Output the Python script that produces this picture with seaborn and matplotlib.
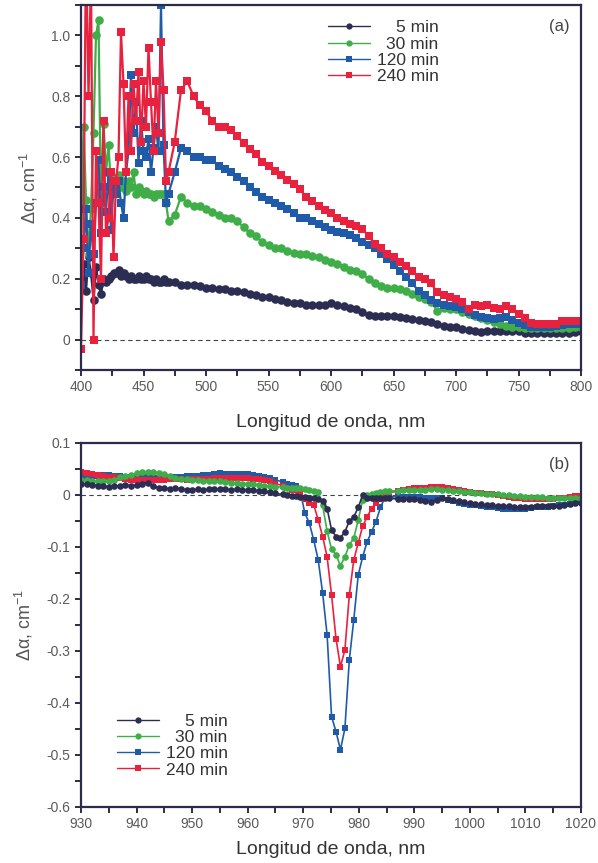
import matplotlib
matplotlib.use("Agg")
import matplotlib.pyplot as plt
import seaborn as sns
import pandas as pd
from matplotlib.lines import Line2D
from matplotlib.ticker import MultipleLocator

# ---------------- data: panel (a) ----------------
wl_a = list(range(400, 471, 2)) + list(range(475, 801, 5))

a_5min = [0.20, 0.25, 0.16, 0.27, 0.22, 0.13, 0.24, 0.18, 0.15, 0.20,
          0.19, 0.20, 0.21, 0.22, 0.22, 0.23, 0.21, 0.22, 0.21, 0.20,
          0.21, 0.20, 0.20, 0.21, 0.20, 0.20, 0.21, 0.20, 0.20, 0.19,
          0.20, 0.19, 0.19, 0.20, 0.19, 0.19,
          0.19, 0.18, 0.18, 0.18, 0.175, 0.17, 0.17, 0.165, 0.165, 0.16,
          0.16, 0.155, 0.15, 0.145, 0.14, 0.14, 0.135, 0.13, 0.125, 0.12,
          0.12, 0.115, 0.115, 0.115, 0.115, 0.12, 0.115, 0.11, 0.105, 0.10,
          0.09, 0.08, 0.077, 0.077, 0.077, 0.077, 0.075, 0.072, 0.067, 0.063,
          0.062, 0.058, 0.05, 0.045, 0.04, 0.04, 0.035, 0.03, 0.027, 0.025,
          0.028, 0.028, 0.027, 0.027, 0.027, 0.027, 0.022, 0.02, 0.02, 0.02,
          0.02, 0.02, 0.022, 0.022, 0.025, 0.028]

a_30min = [0.30, 0.70, 0.46, 0.28, 0.43, 0.68, 1.00, 1.05, 0.45, 0.71,
           0.55, 0.64, 0.50, 0.53, 0.50, 0.54, 0.50, 0.52, 0.49, 0.52,
           0.50, 0.55, 0.48, 0.50, 0.49, 0.48, 0.49, 0.48, 0.48, 0.47,
           0.48, 0.48, 0.48, 0.48, 0.45, 0.39,
           0.41, 0.47, 0.45, 0.44, 0.44, 0.43, 0.42, 0.41, 0.40, 0.40,
           0.39, 0.37, 0.35, 0.34, 0.32, 0.31, 0.30, 0.30, 0.29, 0.285,
           0.28, 0.28, 0.275, 0.27, 0.26, 0.255, 0.25, 0.24, 0.23, 0.225,
           0.215, 0.20, 0.185, 0.175, 0.17, 0.168, 0.165, 0.16, 0.15, 0.14,
           0.134, 0.125, 0.095, 0.105, 0.10, 0.10, 0.09, 0.085, 0.078, 0.07,
           0.063, 0.058, 0.052, 0.046, 0.042, 0.04, 0.038, 0.037, 0.037, 0.037,
           0.037, 0.038, 0.038, 0.039, 0.04, 0.04]

a_120min = [0.18, 0.30, 0.43, 0.22, 0.38, 0.28, 0.45, 0.59, 0.35, 0.50,
            0.42, 0.55, 0.36, 0.50, 0.48, 0.52, 0.45, 0.40, 0.55, 0.62,
            0.87, 0.68, 0.78, 0.58, 0.72, 0.62, 0.60, 0.66, 0.55, 0.63,
            0.70, 0.62, 1.10, 0.64, 0.45, 0.48,
            0.55, 0.63, 0.62, 0.60, 0.60, 0.59, 0.59, 0.57, 0.56, 0.55,
            0.535, 0.52, 0.50, 0.485, 0.47, 0.46, 0.45, 0.44, 0.43, 0.415,
            0.40, 0.40, 0.39, 0.38, 0.37, 0.36, 0.355, 0.35, 0.345, 0.335,
            0.32, 0.31, 0.30, 0.28, 0.265, 0.245, 0.225, 0.205, 0.185, 0.16,
            0.145, 0.13, 0.12, 0.115, 0.11, 0.107, 0.10, 0.09, 0.082, 0.075,
            0.07, 0.068, 0.07, 0.074, 0.065, 0.055, 0.047, 0.043, 0.04, 0.04,
            0.042, 0.045, 0.048, 0.05, 0.052, 0.052]

a_240min = [-0.03, 0.33, 1.30, 0.80, 1.20, 0.00, 0.62, 0.45, 0.20, 0.72,
            0.35, 0.40, 0.55, 0.27, 0.52, 0.60, 1.01, 0.84, 0.55, 0.80,
            0.62, 0.84, 0.72, 0.88, 0.65, 0.85, 0.70, 0.96, 0.78, 0.62,
            0.85, 0.68, 0.98, 0.82, 0.52, 0.55,
            0.65, 0.82, 0.85, 0.80, 0.77, 0.75, 0.72, 0.70, 0.70, 0.69,
            0.67, 0.645, 0.625, 0.61, 0.585, 0.57, 0.555, 0.54, 0.525, 0.51,
            0.495, 0.47, 0.455, 0.44, 0.425, 0.415, 0.40, 0.39, 0.38, 0.375,
            0.365, 0.34, 0.315, 0.30, 0.28, 0.27, 0.255, 0.243, 0.225, 0.205,
            0.20, 0.185, 0.155, 0.145, 0.14, 0.135, 0.125, 0.10, 0.115, 0.11,
            0.115, 0.105, 0.10, 0.112, 0.10, 0.085, 0.07, 0.055, 0.05, 0.05,
            0.05, 0.052, 0.06, 0.062, 0.062, 0.062]

# ---------------- data: panel (b) ----------------
wl_b = (list(range(930, 966)) +
        [966.3, 967.1, 967.9, 968.7, 969.5, 970.3, 971.1, 971.9, 972.7, 973.5,
         974.3, 975.1, 975.9, 976.7, 977.5, 978.3, 979.1, 979.9, 980.7, 981.5,
         982.3, 983.1, 983.9, 984.7, 985.5] +
        list(range(987, 1021)))

b_5min = [.022, .021, .020, .018, .017, .016, .018, .017, .019, .018,
          .019, .022, .024, .018, .014, .013, .012, .013, .012, .010,
          .010, .011, .010, .011, .012, .011, .011, .010, .011, .010,
          .010, .009, .008, .007, .005, .003,
          .001, .0, -.001, -.001, -.003, -.003, -.005, -.006, -.008, -.012,
          -.026, -.067, -.08, -.082, -.071, -.05, -.042, -.024, 0.0, -.005,
          -.006, -.006, -.005, -.005, -.006,
          -.008, -.008, -.008, -.008, -.010, -.012, -.013, -.010, -.006, -.008,
          -.010, -.012, -.014, -.016, -.017, -.018, -.019, -.020, -.021, -.022,
          -.022, -.023, -.023, -.023, -.023, -.022, -.022, -.021, -.021, -.021,
          -.020, -.018, -.016, -.015]

b_30min = [.029, .028, .027, .027, .026, .026, .028, .034, .036, .039,
           .042, .044, .045, .045, .043, .040, .036, .033, .031, .030,
           .029, .028, .027, .026, .026, .026, .025, .024, .023, .022,
           .022, .021, .020, .018, .017, .016,
           .015, .014, .013, .013, .013, .012, .010, .008, .006, -.02,
           -.07, -.104, -.115, -.136, -.119, -.096, -.083, -.048, -.01, 0.0,
           .002, .004, .006, .008, .008,
           .008, .009, .010, .010, .010, .010, .011, .011, .010, .009,
           .008, .007, .006, .005, .004, .003, .002, .002, .001, .000,
           .000, -.001, -.002, -.003, -.003, -.004, -.004, -.005, -.005, -.005,
           -.005, -.006, -.005, -.005]

b_120min = [.035, .036, .037, .037, .038, .038, .037, .036, .035, .035,
            .035, .034, .034, .034, .033, .034, .034, .035, .035, .036,
            .036, .037, .038, .039, .040, .042, .041, .040, .040, .040,
            .040, .039, .037, .035, .032, .029,
            .025, .022, .020, .018, .005, -.035, -.054, -.087, -.125, -.189,
            -.269, -.426, -.455, -.49, -.449, -.317, -.24, -.154, -.119, -.09,
            -.071, -.051, -.024, -.005, -.003,
            -.004, -.003, -.003, -.003, -.004, -.005, -.006, -.006, -.006, -.009,
            -.012, -.015, -.017, -.019, -.020, -.022, -.023, -.024, -.025, -.026,
            -.026, -.026, -.026, -.026, -.025, -.024, -.023, -.023, -.022, -.020,
            -.019, -.017, -.015, -.014]

b_240min = [.045, .043, .041, .039, .037, .035, .034, .032, .030, .029,
            .029, .028, .028, .029, .029, .029, .030, .030, .030, .029,
            .030, .030, .031, .031, .032, .032, .033, .032, .032, .032,
            .032, .031, .030, .029, .026, .022,
            .018, .014, .010, .010, .005, -.008, -.015, -.019, -.048, -.08,
            -.119, -.192, -.276, -.33, -.298, -.192, -.125, -.092, -.06, -.042,
            -.026, -.016, -.008, 0.0, .005,
            .007, .009, .012, .013, .013, .014, .015, .016, .016, .014,
            .012, .010, .008, .006, .004, .003, .002, .001, .000, -.001,
            -.003, -.005, -.006, -.007, -.008, -.008, -.008, -.008, -.007, -.006,
            -.005, -.004, -.002, -.002]

series = ["5 min", "30 min", "120 min", "240 min"]
colors = {"5 min": "#2b2d52", "30 min": "#3fae49", "120 min": "#1f5ba8", "240 min": "#e8213f"}
markers = {"5 min": "o", "30 min": "o", "120 min": "s", "240 min": "s"}

df_a = pd.concat([pd.DataFrame({"wl": wl_a, "da": v, "serie": s})
                  for s, v in zip(series, [a_5min, a_30min, a_120min, a_240min])])
df_b = pd.concat([pd.DataFrame({"wl": wl_b, "da": v, "serie": s})
                  for s, v in zip(series, [b_5min, b_30min, b_120min, b_240min])])

# ---------------- style ----------------
sns.set_theme(style="ticks")
plt.rcParams["font.family"] = ["Liberation Sans", "DejaVu Sans"]
plt.rcParams["mathtext.fontset"] = "custom"
plt.rcParams["mathtext.rm"] = "Liberation Sans"
plt.rcParams["mathtext.it"] = "Liberation Serif:italic"
plt.rcParams["mathtext.default"] = "regular"

spine_c = "#2a2c4a"
tick_c = "#5a5a5a"
label_c = "#333333"

fig = plt.figure(figsize=(5.98, 8.63), dpi=100)
W, H = 598, 863
ax1 = fig.add_axes([81 / W, 1 - 370 / H, 500 / W, 365 / H])
ax2 = fig.add_axes([81 / W, 1 - 807 / H, 500 / W, 364 / H])


def draw(ax, df, order, xpad, ms, lw):
    ax.axhline(0, color="#444444", lw=0.8, ls=(0, (4, 3)), zorder=1)
    sns.lineplot(data=df, x="wl", y="da", hue="serie", style="serie",
                 hue_order=order, style_order=order,
                 palette=colors, markers=markers, dashes=False,
                 estimator=None, sort=False, legend=False,
                 linewidth=lw, markersize=ms, markeredgewidth=0,
                 ax=ax, zorder=2)
    for sp in ax.spines.values():
        sp.set_color(spine_c)
        sp.set_linewidth(1.6)
    ax.tick_params(axis="both", which="both", direction="out", length=4,
                   width=1.4, color=spine_c, labelcolor=tick_c, labelsize=10,
                   top=False, right=False)
    ax.set_xlabel("Longitud de onda, nm", fontsize=14, color=label_c, labelpad=xpad)
    ax.set_ylabel(r"$\Delta\alpha$, cm$^{-1}$", fontsize=13, color="#555555", labelpad=8)


draw(ax1, df_a, series, 14, 6.2, 1.6)
ax1.set_xlim(400, 800)
ax1.set_ylim(-0.1, 1.1)
ax1.xaxis.set_major_locator(MultipleLocator(50))
ax1.xaxis.set_minor_locator(MultipleLocator(25))
ax1.set_yticks([0, 0.2, 0.4, 0.6, 0.8, 1.0])
ax1.set_yticklabels(["0", "0.2", "0.4", "0.6", "0.8", "1.0"])
ax1.yaxis.set_minor_locator(MultipleLocator(0.1))

draw(ax2, df_b, ["120 min", "240 min", "30 min", "5 min"], 7, 4.8, 1.2)
ax2.set_xlim(930, 1020)
ax2.set_ylim(-0.6, 0.1)
ax2.xaxis.set_major_locator(MultipleLocator(10))
ax2.xaxis.set_minor_locator(MultipleLocator(5))
ax2.set_yticks([-0.6, -0.5, -0.4, -0.3, -0.2, -0.1, 0, 0.1])
ax2.set_yticklabels(["-0.6", "-0.5", "-0.4", "-0.3", "-0.2", "-0.1", "0", "0.1"])
ax2.yaxis.set_minor_locator(MultipleLocator(0.05))

ax1.text(0.978, 0.94, "(a)", transform=ax1.transAxes, ha="right", va="center",
         fontsize=12, color="#444444")
ax2.text(0.978, 0.94, "(b)", transform=ax2.transAxes, ha="right", va="center",
         fontsize=12, color="#444444")

handles = [Line2D([], [], color=colors[s], marker=markers[s], markersize=4.5,
                  markeredgewidth=0, lw=1.0) for s in series]
legs = []
for ax, anchor in [(ax1, (0.494, 0.958)), (ax2, (0.072, 0.256))]:
    leg = ax.legend(handles, series, loc="upper left", bbox_to_anchor=anchor,
                    frameon=False, fontsize=12.5, handlelength=2.4,
                    handletextpad=0.4, labelspacing=0.06, borderpad=0,
                    borderaxespad=0)
    for t in leg.get_texts():
        t.set_color("#333333")
    legs.append(leg)

fig.canvas.draw()
renderer = fig.canvas.get_renderer()
for leg in legs:
    texts = leg.get_texts()
    widths = [t.get_window_extent(renderer).width for t in texts]
    m = max(widths)
    for t, w in zip(texts, widths):
        t.set_position((m - w, 0))

fig.savefig("out.png", dpi=100)
